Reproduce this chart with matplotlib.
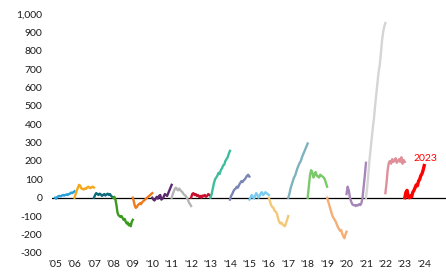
import matplotlib
matplotlib.use('Agg')
import matplotlib.pyplot as plt
import numpy as np
from matplotlib.ticker import FuncFormatter

plt.rcParams['font.family'] = ['Lato', 'DejaVu Sans']
plt.rcParams['axes.unicode_minus'] = False

years = list(range(2005, 2024))
tick_years = list(range(2005, 2025))
tick_labels = ["'%02d" % (y % 100) for y in tick_years]

# cumulative path within each year
y2005 = [0, -5, 5, 8, 10, 8, 12, 15, 12, 15, 18, 15, 20, 22, 28, 25, 30, 35]
y2006 = [0, 20, 40, 55, 70, 65, 50, 48, 45, 50, 48, 55, 60, 55, 52, 58, 60, 55]
y2007 = [0, 15, 25, 20, 15, 22, 18, 10, 15, 20, 12, 18, 22, 15, 20, 10, 5, 0]
y2008 = [0, 5, -10, -40, -80, -95, -100, -105, -100, -110, -120, -115, -130, -140, -135, -150, -145, -155, -130, -120]
y2009 = [0, -20, -45, -55, -50, -40, -35, -30, -35, -25, -20, -15, -10, -5, 0, 5, 10, 15, 20, 25]
y2010 = [0, -10, -15, -5, 5, -5, 10, 15, -10, -5, 5, 20, 15, 10, 25, 40, 55, 70]
y2011 = [0, 20, 35, 50, 55, 45, 40, 50, 42, 35, 30, 20, 15, 10, 0, -10, -25, -35, -45]
y2012 = [0, 20, 25, 15, 20, 10, 15, 5, 10, 0, 12, 8, 15, 5, 10, 20, 15, 10]
y2013 = [0, 20, 50, 80, 100, 110, 120, 135, 130, 150, 160, 175, 180, 200, 210, 220, 240, 255]
y2014 = [-10, 10, 20, 35, 45, 50, 60, 55, 70, 80, 90, 85, 95, 100, 110, 120, 125, 115]
y2015 = [-10, 0, 15, 5, -5, 10, 25, 15, 0, 10, 25, 30, 15, 20, 30, 25, 20, 15]
y2016 = [0, -20, -40, -50, -55, -70, -75, -85, -110, -130, -140, -135, -145, -150, -155, -140, -120, -100]
y2017 = [0, 20, 50, 70, 90, 110, 120, 140, 160, 175, 190, 200, 220, 235, 250, 265, 280, 295]
y2018 = [0, 60, 120, 150, 140, 110, 125, 140, 120, 115, 110, 125, 120, 115, 110, 100, 80, 60]
y2019 = [0, -20, -40, -60, -80, -100, -110, -120, -130, -145, -160, -170, -180, -175, -195, -210, -220, -200, -185]
y2020 = [20, 60, 40, 0, -20, -35, -40, -40, -45, -40, -42, -35, -40, -30, 0, 60, 120, 190]
y2021 = [0, 50, 120, 200, 260, 320, 380, 430, 500, 560, 620, 680, 720, 780, 850, 900, 930, 950]
y2022 = [25, 80, 150, 190, 200, 185, 210, 195, 200, 215, 190, 200, 210, 195, 220, 185, 205, 195]
y2023 = [0, 30, 40, 5, 0, 10, 5, 30, 40, 55, 70, 65, 90, 100, 120, 130, 150, 175]

series = [y2005, y2006, y2007, y2008, y2009, y2010, y2011, y2012, y2013, y2014,
          y2015, y2016, y2017, y2018, y2019, y2020, y2021, y2022, y2023]
colors = ['#2a9fd8', '#f5a81c', '#0d6b7c', '#3a9a1e', '#f07a1a', '#5b2a6e',
          '#b5b5b5', '#c8102e', '#3dbd9d', '#7b86b5', '#7dcbee', '#f5c878',
          '#7fb2bf', '#7ac96a', '#f5ae75', '#a687b8', '#d5d5d5', '#e0909a', '#ff0000']

fig = plt.figure(figsize=(4.46, 2.77), dpi=100)
ax = fig.add_axes([0.117, 0.087, 0.883, 0.863])

ax.axhline(0, color='black', lw=0.9, zorder=1)
for yr, vals, c in zip(years, series, colors):
    x = yr + np.linspace(0, 1, len(vals))
    lw = 2.4 if yr == 2023 else 1.7
    ax.plot(x, vals, color=c, lw=lw, zorder=2)

ax.text(2024.05, 215, '2023', color='#ff0000', fontsize=7.5, ha='center', va='center')

ax.set_xlim(2004.85, 2025.12)
ax.set_ylim(-300, 1000)
ax.set_yticks(range(-300, 1001, 100))
ax.yaxis.set_major_formatter(FuncFormatter(lambda v, p: '{:,.0f}'.format(v)))
ax.set_xticks(tick_years)
ax.set_xticklabels(tick_labels)
ax.tick_params(axis='both', length=0, labelsize=7.5, colors='#1a1a1a')
ax.tick_params(axis='y', pad=7)
ax.tick_params(axis='x', pad=5)
for s in ax.spines.values():
    s.set_visible(False)

fig.savefig('out.png', dpi=100)
